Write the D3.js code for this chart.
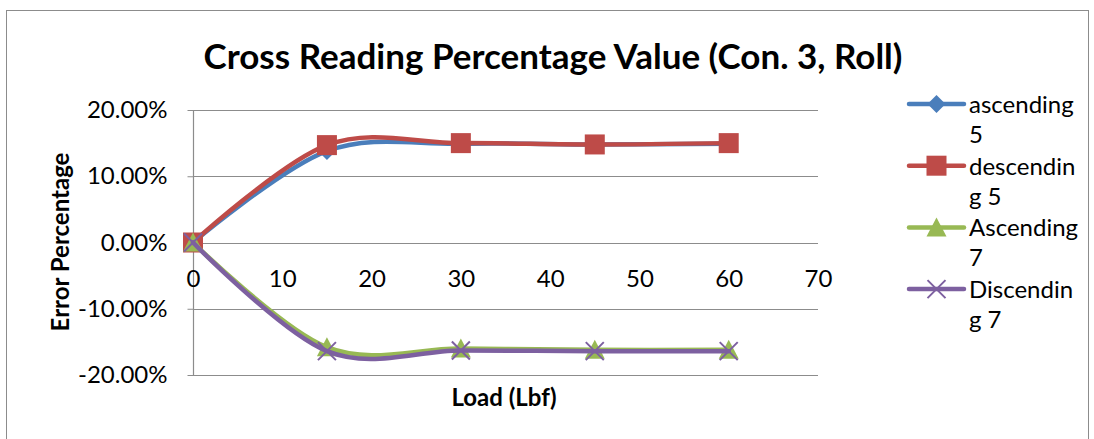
<!DOCTYPE html>
<html>
<head>
<meta charset="utf-8">
<script src="https://cdn.jsdelivr.net/npm/d3@7"></script>
<style>
  body { margin: 0; background: #fff; }
  svg { display: block; font-family: Lato, "Open Sans", "Liberation Sans", sans-serif; }
</style>
</head>
<body>
<svg id="chart" width="1094" height="439"></svg>
<script>
// Load values (Lbf) and error percentages for each run
const loads = [0, 15, 30, 45, 60];
const ascending5 = [0, 0.138, 0.149, 0.148, 0.149];
const descending5 = [0, 0.147, 0.150, 0.148, 0.150];
const ascending7 = [0, -0.158, -0.160, -0.162, -0.162];
const discending7 = [0, -0.164, -0.163, -0.164, -0.164];
const seriesNames = [["ascending", "5"], ["descendin", "g 5"], ["Ascending", "7"], ["Discendin", "g 7"]];
const xTicks = [0, 10, 20, 30, 40, 50, 60, 70];
const yTicks = [0.2, 0.1, 0, -0.1, -0.2];

const series = [
  { name: seriesNames[0], values: ascending5, color: "#4A7EBB", marker: "diamond" },
  { name: seriesNames[1], values: descending5, color: "#BE4B48", marker: "square" },
  { name: seriesNames[2], values: ascending7, color: "#98B954", marker: "triangle" },
  { name: seriesNames[3], values: discending7, color: "#7D60A0", marker: "cross" }
];

const svg = d3.select("#chart");
const x = d3.scaleLinear().domain([0, 70]).range([193, 818]);
const y = d3.scaleLinear().domain([-0.2, 0.2]).range([375, 110]);
const pct = d3.format(".2%");

// Chart frame
svg.append("rect").attr("x", 6.5).attr("y", 10.5).attr("width", 1082).attr("height", 440)
  .attr("fill", "none").attr("stroke", "#8c8c8c").attr("stroke-width", 1);

// Title
svg.append("text").attr("x", 553).attr("y", 69).attr("text-anchor", "middle")
  .attr("font-size", 35).attr("font-weight", "bold").attr("fill", "#000")
  .text("Cross Reading Percentage Value (Con. 3, Roll)");

// Horizontal gridlines
svg.append("g").selectAll("line").data(yTicks).join("line")
  .attr("x1", x(0)).attr("x2", x(70))
  .attr("y1", d => Math.round(y(d)) + 0.5).attr("y2", d => Math.round(y(d)) + 0.5)
  .attr("stroke", "#8c8c8c").attr("stroke-width", 1.2);

// Y axis
const yAxis = d3.axisLeft(y).tickValues(yTicks)
  .tickFormat(d => pct(d).replace("\u2212", "-")).tickSize(6).tickPadding(20);
const gy = svg.append("g").attr("transform", `translate(${x(0) + 0.5},0)`).call(yAxis);
gy.select(".domain").attr("stroke", "#8c8c8c").attr("stroke-width", 1.2).attr("d", `M0,${y(0.2)}V${y(-0.2)}`);
gy.selectAll(".tick line").attr("stroke", "#8c8c8c");
gy.selectAll("text").attr("font-size", 24).attr("fill", "#000").attr("font-family", "Lato, 'Open Sans', sans-serif");

// X axis along the zero line
const xAxis = d3.axisBottom(x).tickValues(xTicks).tickSize(0).tickPadding(0);
const gx = svg.append("g").attr("transform", `translate(0,${Math.round(y(0)) + 0.5})`).call(xAxis);
gx.select(".domain").remove();
gx.selectAll("text").attr("font-size", 24).attr("fill", "#000").attr("font-family", "Lato, 'Open Sans', sans-serif")
  .attr("y", 43).attr("dy", "0");

// Axis titles
svg.append("text").attr("transform", `translate(69,242) rotate(-90)`).attr("text-anchor", "middle")
  .attr("font-size", 24).attr("font-weight", "bold").text("Error Percentage");
svg.append("text").attr("x", 504).attr("y", 406).attr("text-anchor", "middle")
  .attr("font-size", 24).attr("font-weight", "bold").text("Load (Lbf)");

// Marker drawing
function drawMarker(g, type, color) {
  if (type === "diamond") {
    g.append("path").attr("d", "M0,-9L9,0L0,9L-9,0Z").attr("fill", color);
  } else if (type === "square") {
    g.append("rect").attr("x", -10).attr("y", -10).attr("width", 20).attr("height", 20).attr("fill", color);
  } else if (type === "triangle") {
    g.append("path").attr("d", "M0,-10L10,9L-10,9Z").attr("fill", color);
  } else {
    g.append("path").attr("d", "M-9,-9L9,9M-9,9L9,-9").attr("stroke", color).attr("stroke-width", 2).attr("fill", "none");
  }
}

const line = d3.line().x((d, i) => x(loads[i])).y(d => y(d)).curve(d3.curveCatmullRom.alpha(0));

series.forEach(s => {
  const g = svg.append("g");
  g.append("path").attr("d", line(s.values)).attr("fill", "none")
    .attr("stroke", s.color).attr("stroke-width", 4.5).attr("stroke-linejoin", "round").attr("stroke-linecap", "round");
  s.values.forEach((v, i) => {
    drawMarker(g.append("g").attr("transform", `translate(${x(loads[i])},${y(v)})`), s.marker, s.color);
  });
});

// Legend
const legend = svg.append("g");
series.forEach((s, i) => {
  const cy = 104 + i * 61.7;
  const row = legend.append("g");
  row.append("line").attr("x1", 909).attr("x2", 964).attr("y1", cy).attr("y2", cy)
    .attr("stroke", s.color).attr("stroke-width", 4.5).attr("stroke-linecap", "round");
  drawMarker(row.append("g").attr("transform", `translate(936.5,${cy})`), s.marker, s.color);
  row.append("text").attr("x", 969).attr("y", cy + 9).attr("font-size", 24).text(s.name[0]);
  row.append("text").attr("x", 969).attr("y", cy + 39).attr("font-size", 24).text(s.name[1]);
});
</script>
</body>
</html>
